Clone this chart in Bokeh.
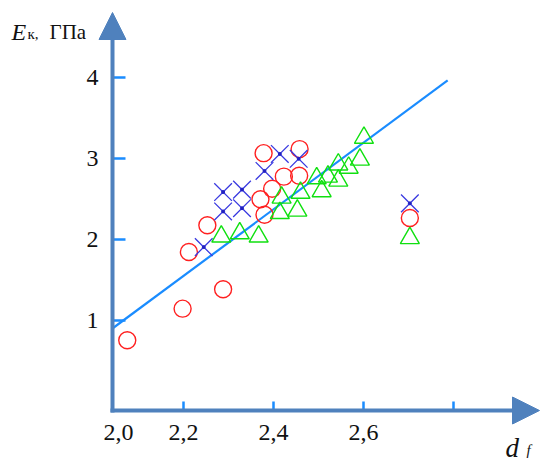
from bokeh.plotting import figure
from bokeh.models import Range1d, FixedTicker, Arrow, NormalHead, Label
from bokeh.embed import file_html
from bokeh.resources import INLINE

# ---------------- data ----------------
circle_x = [2.075, 2.198, 2.212, 2.253, 2.288, 2.371, 2.380, 2.378, 2.397, 2.423, 2.457, 2.458, 2.703]
circle_y = [0.75, 1.14, 1.84, 2.17, 1.38, 2.49, 2.30, 3.06, 2.62, 2.77, 2.78, 3.11, 2.26]

cross_x = [2.245, 2.288, 2.288, 2.330, 2.330, 2.380, 2.414, 2.456, 2.703]
cross_y = [1.90, 2.34, 2.58, 2.38, 2.61, 2.84, 3.05, 2.99, 2.44]

tri_x = [2.284, 2.325, 2.367, 2.414, 2.418, 2.453, 2.460, 2.496, 2.507, 2.521,
         2.544, 2.544, 2.567, 2.592, 2.601, 2.703]
tri_y = [2.03, 2.07, 2.03, 2.32, 2.51, 2.35, 2.57, 2.75, 2.59, 2.77,
         2.72, 2.92, 2.88, 2.98, 3.25, 2.01]

fit_x = [2.042, 2.787]
fit_y = [0.895, 3.957]

x_ticks = [2.2, 2.4, 2.6, 2.8]
x_tick_labels = ["2,2", "2,4", "2,6", ""]
y_ticks = [1, 2, 3, 4]
y_tick_labels = ["1", "2", "3", "4"]
x_origin_label = "2,0"
y_title = ["E", "к,", "ГПа"]
x_title = ["d", "f"]

# ---------------- layout ----------------
W, H = 542, 461
# pixel calibration of the scales (page px)
XREF_PX, XREF, XSCALE = 183.0, 2.2, 450.0   # px per unit
YZERO_PX, YSCALE = 400.5, 81.0

X0, X1 = XREF - XREF_PX / XSCALE, XREF + (W - XREF_PX) / XSCALE
Y0, Y1 = (YZERO_PX - H) / YSCALE, YZERO_PX / YSCALE

AX = "#4f81bd"
TICK = "#1a8cff"
SERIF = "Liberation Serif"
INK = "#111111"


def px_x(px):
    return XREF + (px - XREF_PX) / XSCALE


def px_y(py):
    return (YZERO_PX - py) / YSCALE


AXIS_X = px_x(112)   # where the vertical axis sits
AXIS_Y = px_y(410)   # where the horizontal axis sits

p = figure(width=W, height=H, output_backend="svg", toolbar_location=None,
           x_range=Range1d(X0, X1), y_range=Range1d(Y0, Y1),
           min_border_left=0, min_border_right=0, min_border_top=0,
           min_border_bottom=0)
p.outline_line_color = None
p.grid.visible = False

for ax, ticks, labels, tin, stand, loc in (
        (p.xaxis[0], x_ticks, x_tick_labels, 9, 14, AXIS_Y),
        (p.yaxis[0], y_ticks, y_tick_labels, 13, 14, AXIS_X)):
    ax.fixed_location = loc
    ax.ticker = FixedTicker(ticks=ticks)
    ax.major_label_overrides = dict(zip(ticks, labels))
    ax.axis_line_color = None
    ax.major_tick_in = tin
    ax.major_tick_out = 0
    ax.minor_tick_line_color = None
    ax.major_tick_line_color = TICK
    ax.major_tick_line_width = 2.5
    ax.major_label_text_font = SERIF
    ax.major_label_text_font_size = "24px"
    ax.major_label_text_color = INK
    ax.major_label_standoff = stand

# axes with arrows
p.add_layout(Arrow(end=NormalHead(size=27, fill_color=AX, line_color=AX),
                   x_start=px_x(110), y_start=AXIS_Y, x_end=px_x(539), y_end=AXIS_Y,
                   line_color=AX, line_width=4))
p.add_layout(Arrow(end=NormalHead(size=27, fill_color=AX, line_color=AX),
                   x_start=AXIS_X, y_start=px_y(412), x_end=AXIS_X, y_end=px_y(12),
                   line_color=AX, line_width=4))

# regression line
p.line(fit_x, fit_y, line_color=TICK, line_width=2.2)

# markers
p.scatter(circle_x, circle_y, marker="circle", size=17, fill_color=None,
          line_color="#ff2020", line_width=1.4)
p.scatter(cross_x, cross_y, marker="x", size=25, line_color="#3a3ae0", line_width=1.3)
p.scatter(cross_x, cross_y, marker="circle", size=3, fill_color="#2020c0",
          line_color="#2020c0")
p.scatter(tri_x, tri_y, marker="triangle", size=19, fill_color=None,
          line_color="#10e010", line_width=1.4)


def text(x, y, s, size, style="normal", align="left"):
    p.add_layout(Label(x=px_x(x), y=px_y(y), text=s, text_align=align,
                       text_baseline="top", text_font=SERIF, text_font_size=size,
                       text_font_style=style, text_color=INK))


# texts (positions are the top of each text box, page px)
text(118, 424, x_origin_label, "24px", align="center")
text(11, 18, y_title[0], "24px", style="italic")
text(27, 25, y_title[1], "15px")
text(49, 19, y_title[2], "21px")
text(505, 432, x_title[0], "27px", style="italic")
text(526, 441, x_title[1], "15px", style="italic")

open("out.html", "w").write(file_html(p, INLINE))
